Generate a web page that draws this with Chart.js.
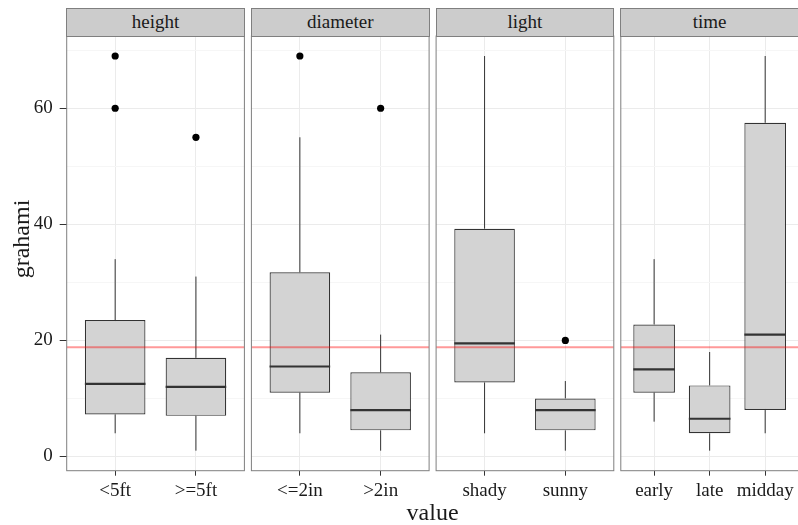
<!DOCTYPE html>
<html>
<head>
<meta charset="utf-8">
<script src="https://cdn.jsdelivr.net/npm/chart.js@4.4.0/dist/chart.umd.min.js"></script>
<style>
  body { margin: 0; background: #fff; overflow: hidden; width: 798px; height: 525px; position: relative;
         font-family: 'Liberation Serif', serif; color: #1a1a1a; }
  canvas { position: absolute; top: 0; }
  .strip { position: absolute; box-sizing: border-box; background: #cccccc; border: 1px solid #7f7f7f;
           text-align: center; font-size: 19px; white-space: nowrap; }
  .axtitle { position: absolute; font-size: 24px; line-height: 24px; text-align: center; white-space: nowrap; }
</style>
</head>
<body>
<script>
'use strict'

// one entry per facet
const facets = ['height', 'diameter', 'light', 'time'];
const categories = [['<5ft', '>=5ft'], ['<=2in', '>2in'], ['shady', 'sunny'], ['early', 'late', 'midday']];
const whiskerLow = [[4, 1], [4, 1], [4, 1], [6, 1, 4]];
const lowerQuartile = [[7.25, 7], [11, 4.5], [12.75, 4.5], [11, 4, 8]];
const medians = [[12.5, 12], [15.5, 8], [19.5, 8], [15, 6.5, 21]];
const upperQuartile = [[23.5, 17], [31.75, 14.5], [39.25, 10], [22.75, 12.25, 57.5]];
const whiskerHigh = [[34, 31], [55, 21], [69, 13], [34, 18, 69]];
const outliers = [[[60, 69], [55]], [[69], [60]], [[], [20]], [[], [], []]];
const meanLine = 18.8;
const yTicks = [0, 10, 20, 30, 40, 50, 60, 70];

// layout
const panelLeft = [66.7, 251.4, 436.1, 620.8];
const panelW = 177.7;
const plotTop = 36, plotBottom = 470.7, pageH = 525;
const boxWidth = 0.75;
const dark = '#333333';

const panelFrame = {
  id: 'panelFrame',
  afterDatasetsDraw(chart) {
    const {ctx, chartArea: a} = chart;
    ctx.save();
    ctx.strokeStyle = '#7f7f7f';
    ctx.lineWidth = 1;
    ctx.strokeRect(a.left, a.top, a.right - a.left, a.bottom - a.top);
    ctx.restore();
  }
};

facets.forEach((facet, k) => {
  const cats = categories[k];
  const n = cats.length;
  const canvasLeft = k === 0 ? 0 : Math.floor(panelLeft[k]) - 6;
  const yWidth = panelLeft[k] - canvasLeft;
  const canvasW = Math.ceil(yWidth + panelW + 4);

  const cv = document.createElement('canvas');
  cv.width = canvasW; cv.height = pageH;
  cv.style.left = canvasLeft + 'px';
  cv.style.width = canvasW + 'px'; cv.style.height = pageH + 'px';
  document.body.appendChild(cv);

  let boxes = [], meds = [], whiskers = [], points = [];
  cats.forEach((c, i) => {
    let x = i + 1;
    boxes.push({x: x, y: [lowerQuartile[k][i], upperQuartile[k][i]]});
    meds.push({x: x - boxWidth / 2, y: medians[k][i]}, {x: x + boxWidth / 2, y: medians[k][i]}, {x: x, y: null});
    whiskers.push({x: x, y: whiskerLow[k][i]}, {x: x, y: lowerQuartile[k][i]}, {x: x, y: null},
                  {x: x, y: upperQuartile[k][i]}, {x: x, y: whiskerHigh[k][i]}, {x: x, y: null});
    for (let v of outliers[k][i]) points.push({x: x, y: v});
  });

  new Chart(cv, {
    data: {
      datasets: [
        { type: 'line', data: whiskers, borderColor: dark, borderWidth: 1, pointRadius: 0, spanGaps: false, order: 4 },
        { type: 'bar', data: boxes, backgroundColor: '#d3d3d3', borderColor: dark, borderWidth: 1.2,
          borderSkipped: false, categoryPercentage: 1, barPercentage: boxWidth, grouped: false, order: 3 },
        { type: 'line', data: meds, borderColor: dark, borderWidth: 2.2, pointRadius: 0, spanGaps: false, order: 2 },
        { type: 'line', data: [{x: 0.4, y: meanLine}, {x: n + 0.6, y: meanLine}],
          borderColor: 'rgba(255,0,0,0.4)', borderWidth: 2, pointRadius: 0, order: 1 },
        { type: 'scatter', data: points, backgroundColor: '#000', borderWidth: 0, pointRadius: 3.6, order: 0 }
      ]
    },
    options: {
      responsive: false,
      devicePixelRatio: 1,
      animation: false,
      events: [],
      layout: { padding: { top: plotTop, right: canvasW - yWidth - panelW, bottom: 0, left: 0 } },
      plugins: { legend: { display: false }, tooltip: { enabled: false } },
      scales: {
        x: {
          type: 'linear', min: 0.4, max: n + 0.6, offset: false,
          afterBuildTicks: (scale) => { scale.ticks = cats.map((c, i) => ({value: i + 1})); },
          afterFit: (scale) => { scale.height = pageH - plotBottom; },
          border: { display: false },
          grid: { offset: false, color: '#ebebeb', lineWidth: 1, tickColor: dark, tickLength: 5 },
          ticks: { autoSkip: false, maxRotation: 0, padding: 4, color: '#1a1a1a',
                   font: { family: 'Liberation Serif', size: 19 },
                   callback: (v, i) => cats[i] }
        },
        y: {
          type: 'linear', min: -2.45, max: 72.45,
          afterBuildTicks: (scale) => { scale.ticks = yTicks.map(v => ({value: v})); },
          afterFit: (scale) => { scale.width = yWidth; },
          border: { display: false },
          grid: {
            color: (ctx) => ctx.tick && ctx.tick.value % 20 === 0 ? '#ebebeb' : '#f6f6f6',
            lineWidth: 1,
            drawTicks: k === 0,
            tickLength: 7,
            tickColor: (ctx) => ctx.tick && ctx.tick.value % 20 === 0 ? dark : 'rgba(0,0,0,0)'
          },
          ticks: { display: k === 0, padding: 7, color: '#1a1a1a',
                   font: { family: 'Liberation Serif', size: 19 },
                   callback: (v) => v % 20 === 0 ? String(v) : '' }
        }
      }
    },
    plugins: [panelFrame]
  });

  let strip = document.createElement('div');
  strip.className = 'strip';
  strip.style.left = (panelLeft[k] - 0.5) + 'px';
  strip.style.top = '8px';
  strip.style.width = (panelW + 1) + 'px';
  strip.style.height = (plotTop - 8 + 0.5) + 'px';
  strip.style.lineHeight = (plotTop - 8 - 1.5) + 'px';
  strip.textContent = facet;
  document.body.appendChild(strip);
});

let xTitle = document.createElement('div');
xTitle.className = 'axtitle';
xTitle.style.left = (panelLeft[0] + (panelLeft[3] + panelW - panelLeft[0]) / 2 - 100) + 'px';
xTitle.style.width = '200px';
xTitle.style.top = '500px';
xTitle.textContent = 'value';
document.body.appendChild(xTitle);

let yTitle = document.createElement('div');
yTitle.className = 'axtitle';
yTitle.style.left = (21.4 - 100) + 'px';
yTitle.style.top = (239 - 12) + 'px';
yTitle.style.width = '200px';
yTitle.style.transform = 'rotate(-90deg)';
yTitle.textContent = 'grahami';
document.body.appendChild(yTitle);
</script>
</body>
</html>
